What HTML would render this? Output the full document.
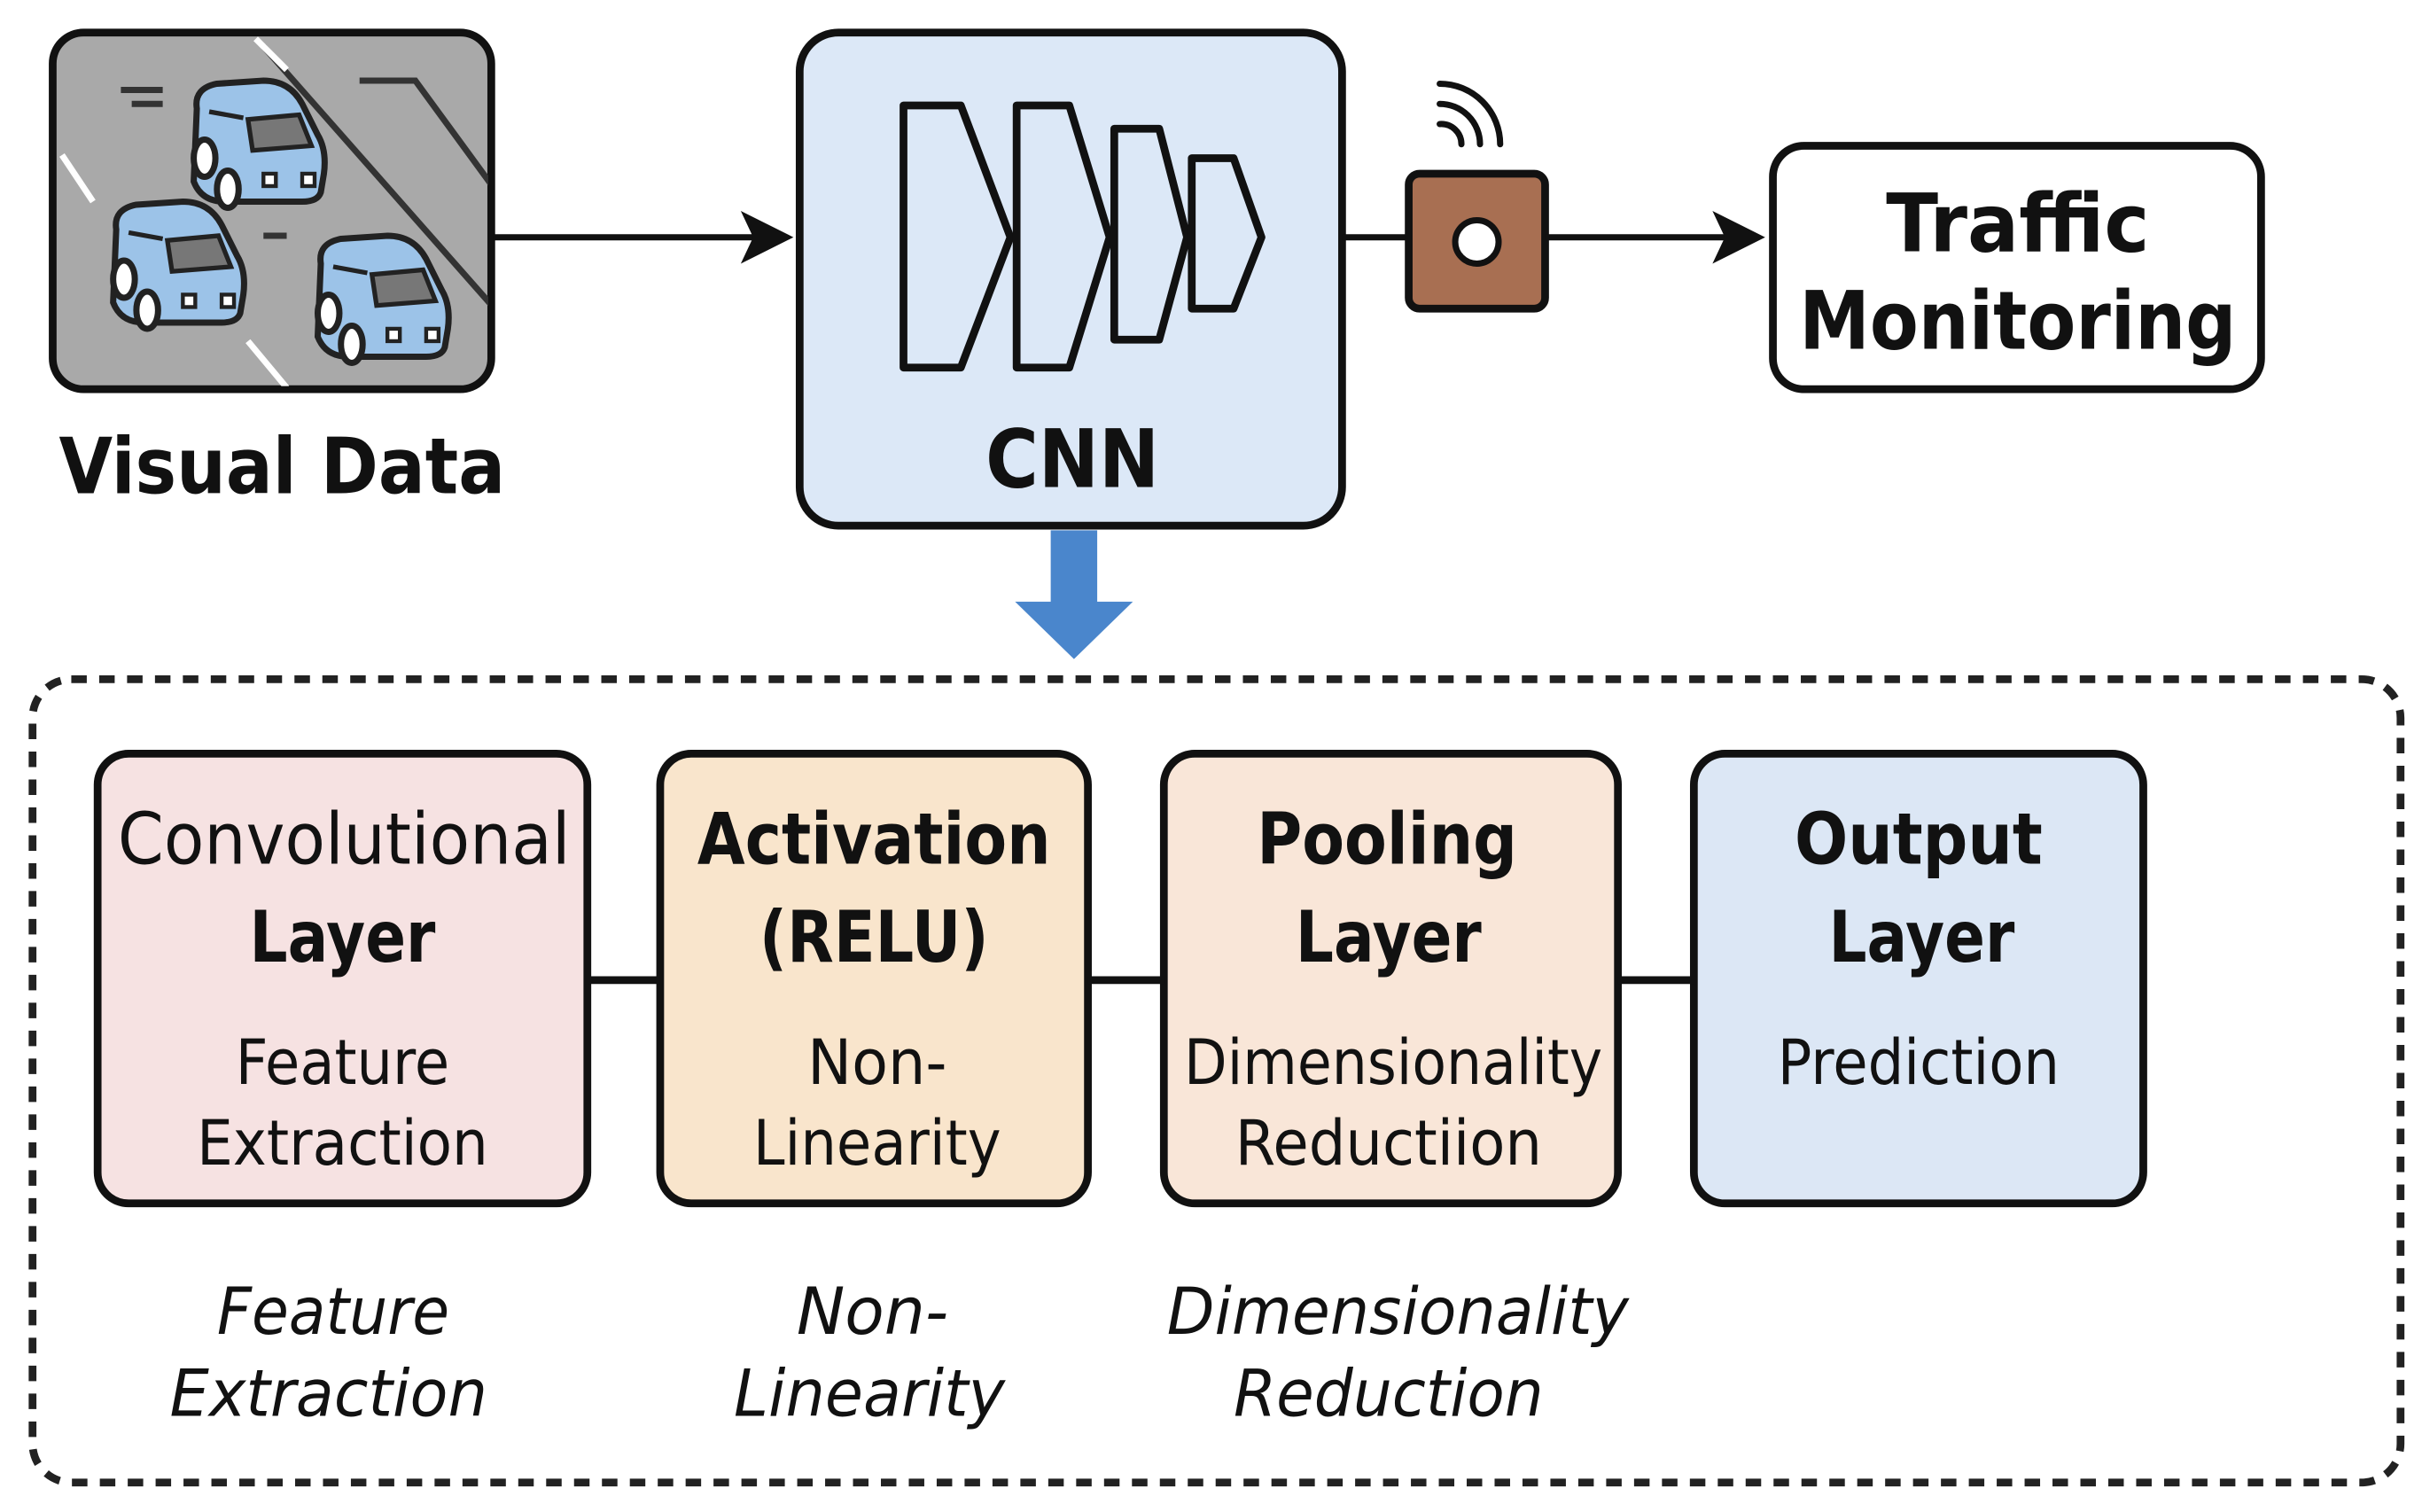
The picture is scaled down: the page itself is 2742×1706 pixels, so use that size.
<!DOCTYPE html>
<html><head><meta charset="utf-8"><style>
html,body{margin:0;padding:0;background:#fff;}
svg{display:block;}
text{font-family:"DejaVu Sans","Liberation Sans",sans-serif;fill:#111;}
</style></head><body>
<svg width="2742" height="1706" viewBox="0 0 1568 975" preserveAspectRatio="none" xmlns="http://www.w3.org/2000/svg">
<defs>
<marker id="ah" markerWidth="10" markerHeight="10" refX="8" refY="5" orient="auto" markerUnits="userSpaceOnUse" viewBox="0 0 10 10">
</marker>
<g id="car">
  <path d="M-38,-22 Q-40,-35 -25,-38 L5,-40 Q22,-40 30,-25 L40,-5 Q46,5 44,20 L42,32 Q40,38 30,38 L-20,38 Q-35,38 -40,25 Z" fill="#9cc3e8" stroke="#222" stroke-width="4"/>
  <path d="M-5,-15 L28,-18 L36,2 L-2,5 Z" fill="#777" stroke="#222" stroke-width="3"/>
  <path d="M-30,-20 L-8,-16" stroke="#222" stroke-width="3"/>
  <ellipse cx="-33" cy="10" rx="7" ry="12" fill="#fff" stroke="#222" stroke-width="4"/>
  <ellipse cx="-18" cy="30" rx="7" ry="12" fill="#fff" stroke="#222" stroke-width="4"/>
  <rect x="5" y="20" width="8" height="8" fill="#fff" stroke="#222" stroke-width="2.5"/>
  <rect x="30" y="20" width="8" height="8" fill="#fff" stroke="#222" stroke-width="2.5"/>
</g>
</defs>

<!-- Visual data -->
<rect x="34" y="21" width="283" height="230" rx="20" fill="#a9a9a9" stroke="#111" stroke-width="5"/>
<clipPath id="vc"><rect x="36" y="23" width="279" height="226" rx="18"/></clipPath>
<g clip-path="url(#vc)">
  <line x1="170" y1="30" x2="320" y2="200" stroke="#333" stroke-width="4"/>
  <path d="M232,52 L268,52 L325,130" fill="none" stroke="#333" stroke-width="4"/>
  <line x1="165" y1="25" x2="185" y2="45" stroke="#fff" stroke-width="4"/>
  <line x1="40" y1="100" x2="60" y2="130" stroke="#fff" stroke-width="4"/>
  <line x1="160" y1="220" x2="185" y2="250" stroke="#fff" stroke-width="4"/>
  <line x1="78" y1="58" x2="105" y2="58" stroke="#333" stroke-width="4"/>
  <line x1="85" y1="67" x2="105" y2="67" stroke="#333" stroke-width="4"/>
  <line x1="170" y1="152" x2="185" y2="152" stroke="#333" stroke-width="4"/>
  <use href="#car" transform="translate(165,92)"/>
  <use href="#car" transform="translate(113,170)"/>
  <use href="#car" transform="translate(245,192)"/>
</g>
<text x="38" y="318" font-size="50" font-weight="bold" textLength="288" lengthAdjust="spacingAndGlyphs">Visual Data</text>

<!-- arrow 1 -->
<line x1="318" y1="153" x2="490" y2="153" stroke="#111" stroke-width="4"/>
<path d="M478,136 L512,153 L478,170 L486,153 Z" fill="#111"/>

<!-- CNN box -->
<rect x="516" y="21" width="350" height="318" rx="25" fill="#dce8f7" stroke="#111" stroke-width="5"/>
<g fill="none" stroke="#111" stroke-width="5" stroke-linejoin="round">
  <path d="M583,68 L620,68 L652,153 L620,237 L583,237 Z"/>
  <path d="M656,68 L690,68 L716,153 L690,237 L656,237 Z"/>
  <path d="M719,83 L748,83 L766,153 L748,219 L719,219 Z"/>
  <path d="M769,102 L796,102 L814,153 L796,199 L769,199 Z"/>
</g>
<text x="692" y="314" font-size="52" font-weight="bold" text-anchor="middle" textLength="112" lengthAdjust="spacingAndGlyphs">CNN</text>

<!-- line to sensor -->
<line x1="866" y1="153" x2="910" y2="153" stroke="#111" stroke-width="4"/>
<rect x="909" y="112" width="88" height="87" rx="7" fill="#a86f52" stroke="#111" stroke-width="5"/>
<circle cx="953" cy="156" r="14" fill="#fff" stroke="#111" stroke-width="4"/>
<g fill="none" stroke="#111" stroke-width="4" stroke-linecap="round">
  <path d="M929,80 A13,13 0 0 1 943,93"/>
  <path d="M929,67 A26,26 0 0 1 955,93"/>
  <path d="M929,54 A39,39 0 0 1 968,93"/>
</g>
<line x1="997" y1="153" x2="1118" y2="153" stroke="#111" stroke-width="4"/>
<path d="M1105,136 L1139,153 L1105,170 L1113,153 Z" fill="#111"/>

<!-- Traffic monitoring -->
<rect x="1144" y="94" width="315" height="157" rx="20" fill="#fff" stroke="#111" stroke-width="5"/>
<text x="1302" y="162" font-size="52" font-weight="bold" text-anchor="middle" textLength="170" lengthAdjust="spacingAndGlyphs">Traffic</text>
<text x="1302" y="225" font-size="52" font-weight="bold" text-anchor="middle" textLength="282" lengthAdjust="spacingAndGlyphs">Monitoring</text>

<!-- blue arrow -->
<path d="M678,342 L708,342 L708,388 L731,388 L693,425 L655,388 L678,388 Z" fill="#4a86cc"/>

<!-- dashed container -->
<rect x="21" y="438" width="1528" height="518" rx="25" fill="none" stroke="#222" stroke-width="5" stroke-dasharray="10,8"/>

<!-- layer boxes -->
<rect x="63" y="486" width="316" height="290" rx="20" fill="#f6e2e2" stroke="#111" stroke-width="5"/>
<rect x="426" y="486" width="276" height="290" rx="20" fill="#f9e5cc" stroke="#111" stroke-width="5"/>
<rect x="751" y="486" width="293" height="290" rx="20" fill="#f9e6d8" stroke="#111" stroke-width="5"/>
<rect x="1093" y="486" width="290" height="290" rx="20" fill="#dce7f5" stroke="#111" stroke-width="5"/>
<g stroke="#111" stroke-width="5">
  <line x1="379" y1="632" x2="426" y2="632"/>
  <line x1="702" y1="632" x2="751" y2="632"/>
  <line x1="1044" y1="632" x2="1093" y2="632"/>
</g>

<g font-size="46" text-anchor="middle">
  <text x="222" y="557" textLength="292" lengthAdjust="spacingAndGlyphs">Convolutional</text>
  <text x="221" y="620" font-weight="bold" textLength="120" lengthAdjust="spacingAndGlyphs">Layer</text>
  <text x="564" y="557" font-weight="bold" textLength="228" lengthAdjust="spacingAndGlyphs">Activation</text>
  <text x="564" y="620" font-weight="bold" textLength="148" lengthAdjust="spacingAndGlyphs">(RELU)</text>
  <text x="895" y="557" font-weight="bold" textLength="168" lengthAdjust="spacingAndGlyphs">Pooling</text>
  <text x="896" y="620" font-weight="bold" textLength="120" lengthAdjust="spacingAndGlyphs">Layer</text>
  <text x="1238" y="557" font-weight="bold" textLength="160" lengthAdjust="spacingAndGlyphs">Output</text>
  <text x="1240" y="620" font-weight="bold" textLength="120" lengthAdjust="spacingAndGlyphs">Layer</text>
</g>
<g font-size="40" text-anchor="middle">
  <text x="221" y="699" textLength="138" lengthAdjust="spacingAndGlyphs">Feature</text>
  <text x="221" y="751" textLength="188" lengthAdjust="spacingAndGlyphs">Extraction</text>
  <text x="566" y="699" textLength="90" lengthAdjust="spacingAndGlyphs">Non-</text>
  <text x="566" y="751" textLength="160" lengthAdjust="spacingAndGlyphs">Linearity</text>
  <text x="899" y="699" textLength="270" lengthAdjust="spacingAndGlyphs">Dimensionality</text>
  <text x="896" y="751" textLength="198" lengthAdjust="spacingAndGlyphs">Reductiion</text>
  <text x="1238" y="699" textLength="182" lengthAdjust="spacingAndGlyphs">Prediction</text>
</g>
<g font-size="42" font-style="italic" text-anchor="middle">
  <text x="215" y="860" textLength="150" lengthAdjust="spacingAndGlyphs">Feature</text>
  <text x="212" y="913" textLength="205" lengthAdjust="spacingAndGlyphs">Extraction</text>
  <text x="563" y="860" textLength="98" lengthAdjust="spacingAndGlyphs">Non-</text>
  <text x="561" y="913" textLength="175" lengthAdjust="spacingAndGlyphs">Linearity</text>
  <text x="902" y="860" textLength="298" lengthAdjust="spacingAndGlyphs">Dimensionality</text>
  <text x="896" y="913" textLength="200" lengthAdjust="spacingAndGlyphs">Reduction</text>
</g>
</svg>
</body></html>
